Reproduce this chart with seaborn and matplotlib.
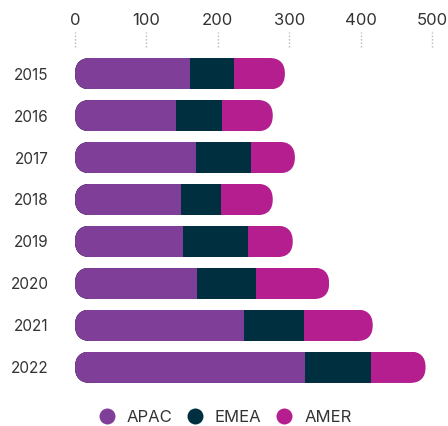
import numpy as np
import pandas as pd
import matplotlib
matplotlib.use("Agg")
import matplotlib.pyplot as plt
import seaborn as sns
from matplotlib.patches import FancyBboxPatch
from matplotlib.lines import Line2D
from matplotlib.transforms import blended_transform_factory, IdentityTransform

# Revenue by region per year
years = ["2015", "2016", "2017", "2018", "2019", "2020", "2021", "2022"]
apac = [161, 141, 169, 148, 151, 171, 237, 322]
emea = [62, 65, 78, 57, 91, 83, 84, 93]
amer = [71, 71, 61, 72, 63, 102, 96, 76]
regions = ["APAC", "EMEA", "AMER"]
x_ticks = [0, 100, 200, 300, 400, 500]

colors = {"APAC": "#7F3F98", "EMEA": "#00303F", "AMER": "#B41E8E"}
text_color = "#333333"

sns.set_theme(style="white")
plt.rcParams["font.family"] = ["Inter", "DejaVu Sans"]

df = pd.DataFrame({"year": years, "APAC": apac, "EMEA": emea, "AMER": amer})
df["EMEA_end"] = df["APAC"] + df["EMEA"]
df["AMER_end"] = df["EMEA_end"] + df["AMER"]

W, H = 448, 426
fig = plt.figure(figsize=(W / 100, H / 100), dpi=100)
ax = fig.add_axes([75 / W, 1 - 388.2 / H, 357 / W, 335.5 / H])

bar_w = 0.75
# stacked bars: draw cumulative totals from the outermost segment inward
for col, region in [("AMER_end", "AMER"), ("EMEA_end", "EMEA"), ("APAC", "APAC")]:
    sns.barplot(data=df, x=col, y="year", orient="h", color=colors[region],
                saturation=1, width=bar_w, linewidth=0, errorbar=None, ax=ax)

ax.set_xlim(0, 500)
ax.set_ylim(len(years) - 0.5, -0.5)

# pill-shaped outline for each stacked bar, used as a clip path
pills = []
for i, total in enumerate(df["AMER_end"]):
    x0, y0 = ax.transData.transform((0, i + bar_w / 2))
    x1, y1 = ax.transData.transform((total, i - bar_w / 2))
    h = y1 - y0
    pill = FancyBboxPatch((x0, y0), x1 - x0, h,
                          boxstyle=f"round,pad=0,rounding_size={h / 2}",
                          transform=IdentityTransform())
    pills.append(pill)

for p in ax.patches:
    idx = int(round(p.get_y() + p.get_height() / 2))
    if 0 <= idx < len(pills):
        p.set_clip_path(pills[idx])

# axes styling
ax.set_xlabel("")
ax.set_ylabel("")
for s in ax.spines.values():
    s.set_visible(False)
ax.xaxis.tick_top()
ax.set_xticks(x_ticks)
ax.set_xticklabels([str(t) for t in x_ticks])
ax.tick_params(axis="x", length=0, pad=18, labelsize=12, labelcolor=text_color)
ax.tick_params(axis="y", length=0, pad=19, labelsize=11, labelcolor=text_color)

# short dotted tick marks above the plot
trans = blended_transform_factory(ax.transData, ax.transAxes)
ax.vlines(x_ticks, 1.017, 1.062, transform=trans, colors="#b8b8b8",
          linestyles=(0, (1, 1.5)), lw=1, clip_on=False)

handles = [Line2D([], [], marker="o", ls="", markersize=11.5,
                  markerfacecolor=colors[r], markeredgewidth=0) for r in regions]
fig.legend(handles, regions, loc="center", bbox_to_anchor=(0.502, 8.3 / H),
           ncol=3, frameon=False, fontsize=12, handlelength=1.0,
           handletextpad=0.7, columnspacing=0.86, labelcolor=text_color)

fig.savefig("out.png", dpi=100)
